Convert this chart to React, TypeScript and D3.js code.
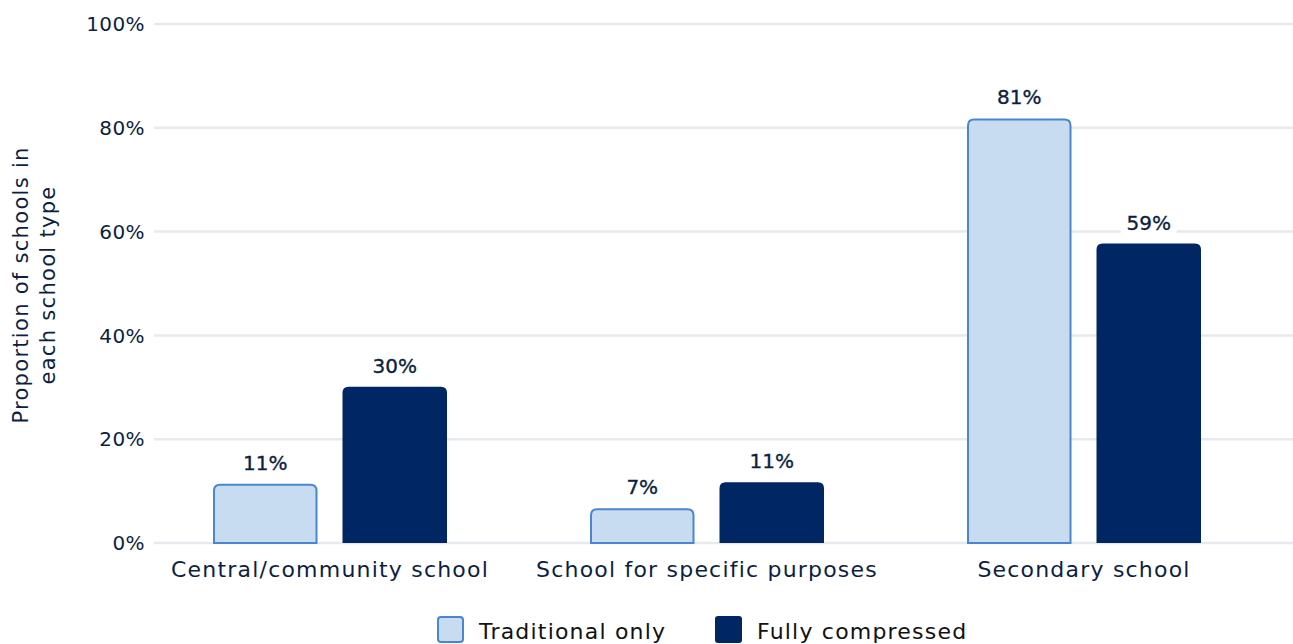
import React from "react";
import * as d3 from "d3";

const categories = ["Central/community school", "School for specific purposes", "Secondary school"];
const seriesNames = ["Traditional only", "Fully compressed"];
const traditionalValues = [11.4, 6.7, 81.8];
const compressedValues = [30.1, 11.7, 57.7];
const traditionalLabels = ["11%", "7%", "81%"];
const compressedLabels = ["30%", "11%", "59%"];
const yTicks = [0, 20, 40, 60, 80, 100];

const W = 1293;
const H = 644;
const FONT = "'DejaVu Sans', sans-serif";
const TEXT = "#0c1f42";
const NAVY = "#002663";
const LIGHT = "#c7dcf0";
const LIGHT_STROKE = "#4a85cf";
const GRID = "#e6e9ee";

function topRoundedPath(x: number, y: number, w: number, h: number, r: number) {
  const rr = Math.min(r, h, w / 2);
  return `M${x},${y + h}V${y + rr}Q${x},${y} ${x + rr},${y}H${x + w - rr}Q${x + w},${y} ${x + w},${y + rr}V${y + h}Z`;
}

export default function App() {
  const y = d3.scaleLinear().domain([0, 100]).range([543, 24]);
  const x0 = d3.scaleBand<string>().domain(categories).range([141.5, 1272.5]).padding(0);
  const x1 = d3.scaleBand<string>().domain(seriesNames).range([71.5, 305.5]).paddingInner(0.193).paddingOuter(0);
  const series = [
    { name: seriesNames[0], values: traditionalValues, labels: traditionalLabels, fill: LIGHT, stroke: LIGHT_STROKE },
    { name: seriesNames[1], values: compressedValues, labels: compressedLabels, fill: NAVY, stroke: "none" },
  ];
  const bw = x1.bandwidth();

  return (
    <svg width={W} height={H} style={{ position: "absolute", left: 0, top: 0, fontFamily: FONT }}>
      <rect width={W} height={H} fill="#fff" />
      {yTicks.map((t) => (
        <g key={t}>
          <line x1={154} x2={1293} y1={y(t)} y2={y(t)} stroke={GRID} strokeWidth={2.5} />
          <text x={145} y={y(t)} dy="0.36em" textAnchor="end" fontSize={20} letterSpacing={0.4} fill={TEXT}>
            {t}%
          </text>
        </g>
      ))}
      <text transform="translate(28,285) rotate(-90)" textAnchor="middle" fontSize={21} letterSpacing={1.3} fill={TEXT}>
        <tspan x={0} dy={0}>Proportion of schools in</tspan>
        <tspan x={0} dy={27}>each school type</tspan>
      </text>
      {categories.map((c, i) => (
        <g key={c} transform={`translate(${x0(c)},0)`}>
          {series.map((s) => {
            const bx = x1(s.name)!;
            const v = s.values[i];
            const top = y(v);
            const h = y(0) - top;
            const sw = s.stroke === "none" ? 0 : 2;
            return (
              <g key={s.name}>
                <path
                  d={topRoundedPath(bx + sw / 2, top + sw / 2, bw - sw, h - sw / 2, 6)}
                  fill={s.fill}
                  stroke={s.stroke}
                  strokeWidth={sw}
                />
                <rect x={bx + bw / 2 - 28} y={top - 34} width={56} height={25} fill="#fff" />
                <text
                  x={bx + bw / 2}
                  y={top - 14}
                  textAnchor="middle"
                  fontSize={20}
                  fill={TEXT}
                  stroke={TEXT}
                  strokeWidth={0.35}
                >
                  {s.labels[i]}
                </text>
              </g>
            );
          })}
          <text x={x0.bandwidth() / 2} y={577} textAnchor="middle" fontSize={22} letterSpacing={1.2} fill={TEXT}>
            {c}
          </text>
        </g>
      ))}
      {series.map((s, i) => {
        const lx = [437, 715][i];
        const sw = s.stroke === "none" ? 0 : 2;
        return (
          <g key={s.name}>
            <rect x={lx + sw / 2} y={616 + sw / 2} width={27 - sw} height={27 - sw} rx={3} fill={s.fill} stroke={s.stroke} strokeWidth={sw} />
            <text x={lx + 42} y={639} fontSize={22} letterSpacing={1.2} fill="#111">
              {s.name}
            </text>
          </g>
        );
      })}
    </svg>
  );
}
